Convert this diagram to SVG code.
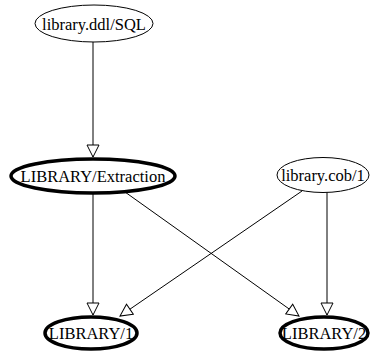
<svg xmlns="http://www.w3.org/2000/svg" width="371" height="352" viewBox="0 0 371 352">
<style>
.n ellipse{fill:#fff;stroke:#000;stroke-width:1}
.n.b ellipse{stroke-width:3.5}
.n text{font-family:'Liberation Serif','Times New Roman',serif;font-size:16.5px;fill:#000;text-anchor:middle}
#edges line{stroke:#000;stroke-width:1;marker-end:url(#ah)}
</style>
<defs>
<marker id="ah" markerUnits="userSpaceOnUse" markerWidth="14" markerHeight="14" viewBox="-1 -7 14 14" refX="12" refY="0" orient="auto">
<path d="M0,-6 L12,0 L0,6 Z" fill="#fff" stroke="#000" stroke-width="1"/>
</marker>
</defs>
<rect width="371" height="352" fill="#fff"/>
<g id="edges">
<line x1="93" y1="42" x2="93" y2="157"/>
<line x1="93" y1="193" x2="93" y2="315"/>
<line x1="125" y1="192" x2="299" y2="316"/>
<line x1="302" y1="191" x2="120" y2="316"/>
<line x1="327" y1="192" x2="327" y2="315"/>
</g>
<g id="ddl" class="n">
<ellipse cx="94" cy="23.5" rx="59" ry="18.5"/>
<text x="94" y="29.5">library.ddl/SQL</text>
</g>
<g id="extraction" class="n b">
<ellipse cx="93" cy="176" rx="82" ry="17"/>
<text x="93" y="182">LIBRARY/Extraction</text>
</g>
<g id="cob" class="n">
<ellipse cx="323" cy="175" rx="46" ry="17.5"/>
<text x="323" y="181">library.cob/1</text>
</g>
<g id="lib1" class="n b">
<ellipse cx="91" cy="333" rx="46" ry="16"/>
<text x="91" y="339">LIBRARY/1</text>
</g>
<g id="lib2" class="n b">
<ellipse cx="324" cy="333" rx="44" ry="16"/>
<text x="324" y="339">LIBRARY/2</text>
</g>
</svg>
